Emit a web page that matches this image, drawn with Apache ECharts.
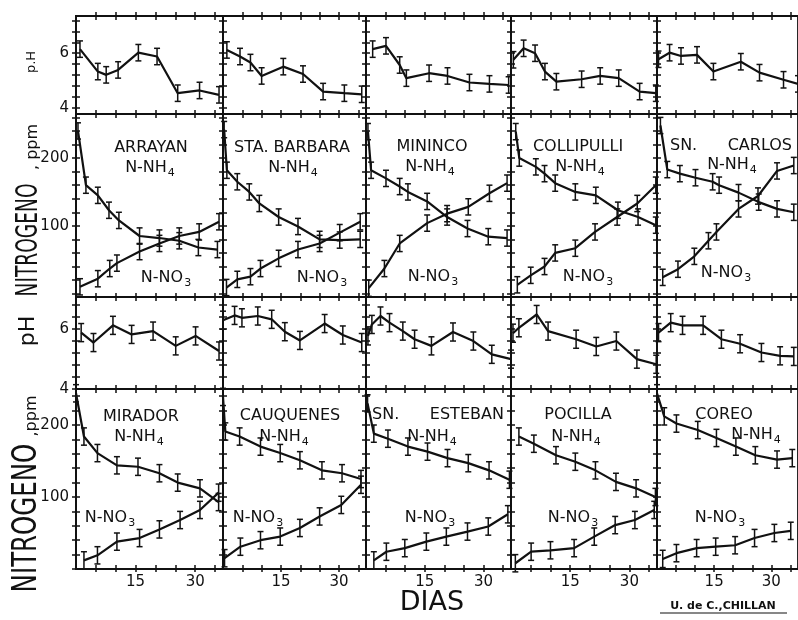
<!DOCTYPE html>
<html>
<head>
<meta charset="utf-8">
<script src="https://cdn.jsdelivr.net/npm/echarts@6/dist/echarts.min.js"></script>
<style>
  html, body { margin: 0; padding: 0; background: #fff; }
  #main { width: 798px; height: 620px; }
</style>
</head>
<body>
<div id="main"></div>
<script>
// sites, top block then bottom block
const SITES = ['ARRAYAN', 'STA. BARBARA', 'MININCO', 'COLLIPULLI', 'SN.      CARLOS',
               'MIRADOR', 'CAUQUENES', 'SN.      ESTEBAN', 'POCILLA', 'COREO'];

// [dia, valor]
const ARRAYAN_PH  = [[1, 6.15], [5.5, 5.33], [7.6, 5.21], [10.6, 5.39], [15.7, 6.02], [20.4, 5.88], [25.6, 4.54], [31.1, 4.64], [36, 4.48]];
const ARRAYAN_NH4 = [[0.5, 240], [2.5, 160], [5.5, 145], [8.3, 123], [10.8, 108], [16, 85], [21, 82], [26, 78], [30.8, 68], [35.6, 65]];
const ARRAYAN_NO3 = [[1, 10], [5.5, 22], [8.5, 37], [10.3, 45], [16, 62], [21, 74], [26, 85], [31, 91], [36, 106]];

const BARBARA_PH  = [[1, 6.12], [4.4, 5.88], [7.1, 5.66], [10, 5.17], [15.6, 5.51], [20.7, 5.24], [25.9, 4.6], [31.4, 4.54], [35.9, 4.5]];
const BARBARA_NH4 = [[0.3, 242], [1, 182], [3.7, 165], [6.8, 150], [9.4, 133], [14.4, 113], [19.4, 99], [25, 80], [30.2, 79], [35.5, 80]];
const BARBARA_NO3 = [[0.9, 9], [3.7, 21], [7.1, 25], [9.7, 37], [14.4, 52], [19.4, 65], [25, 74], [30.2, 90], [35.5, 106]];

const MININCO_PH  = [[1.7, 6.15], [5.1, 6.27], [8.6, 5.57], [10.3, 5.09], [16.1, 5.27], [20.8, 5.17], [26.4, 4.93], [31.5, 4.88], [36.4, 4.84]];
const MININCO_NH4 = [[0.5, 239], [1.3, 182], [5.1, 170], [8.6, 158], [10.7, 150], [15.6, 136], [20.7, 113], [25.9, 96], [31.2, 84], [36, 82]];
const MININCO_NO3 = [[0.7, 8], [4.7, 37], [8.6, 74], [15.6, 104], [20.7, 118], [26.1, 128], [31.5, 148], [36, 163]];

const COLLIPULLI_PH  = [[0.6, 5.76], [3.2, 6.18], [6.1, 6.0], [8.6, 5.33], [11.5, 4.96], [17.9, 5.05], [22.6, 5.17], [27.3, 5.09], [32.6, 4.6], [36.7, 4.54]];
const COLLIPULLI_NH4 = [[1.2, 239], [2.1, 200], [6.3, 187], [8.5, 177], [11.2, 163], [16.3, 150], [21.5, 145], [27.1, 123], [32.2, 113], [36.7, 101]];
const COLLIPULLI_NO3 = [[1.6, 13], [5, 27], [8.5, 40], [11.2, 60], [16.3, 67], [21.3, 91], [26.9, 113], [32, 133], [36.7, 160]];

const CARLOS_PH  = [[0.4, 5.78], [3.3, 6.02], [6.3, 5.9], [10.5, 5.94], [14.8, 5.33], [22, 5.69], [26.9, 5.29], [33.2, 5.03], [37, 4.88]];
const CARLOS_NH4 = [[0.9, 248], [2.7, 183], [6, 177], [10.1, 171], [14.6, 165], [16.3, 160], [21.4, 149], [26.7, 135], [31.5, 125], [35.9, 120]];
const CARLOS_NO3 = [[1.5, 24], [5.5, 36], [9.8, 55], [13.5, 78], [15.6, 91], [21.4, 125], [26.5, 144], [31.5, 181], [35.9, 189]];

const MIRADOR_PH  = [[1.3, 5.87], [4.4, 5.54], [9.3, 6.11], [14, 5.81], [19.4, 5.92], [25.1, 5.43], [30.1, 5.76], [36, 5.26]];
const MIRADOR_NH4 = [[0, 244], [2, 184], [5.4, 161], [10.3, 144], [15.6, 142], [21, 133], [25.6, 120], [31.2, 112], [35.9, 93]];
const MIRADOR_NO3 = [[2, 12], [5.4, 19], [10.3, 38], [16, 43], [21, 55], [26.2, 68], [31.2, 82], [35.9, 106]];

const CAUQUENES_PH  = [[0, 6.28], [3, 6.44], [4.9, 6.36], [9, 6.42], [12.6, 6.31], [16, 5.9], [19.9, 5.61], [26.3, 6.17], [31, 5.79], [35.9, 5.54]];
const CAUQUENES_NH4 = [[0, 239], [0.6, 191], [4.3, 184], [9.7, 170], [14.8, 161], [19.9, 151], [25.6, 137], [30.8, 133], [35.7, 125]];
const CAUQUENES_NO3 = [[0.4, 15], [4.5, 31], [9.7, 40], [14.8, 45], [19.9, 57], [25, 73], [30.6, 89], [35.7, 117]];

const ESTEBAN_PH  = [[0.5, 5.76], [1.5, 6.14], [3.7, 6.42], [6, 6.2], [9.4, 5.92], [12.4, 5.65], [16.7, 5.43], [22.2, 5.89], [27.4, 5.59], [32.1, 5.15], [37, 4.99]];
const ESTEBAN_NH4 = [[0.4, 230], [2, 188], [5.6, 181], [10.7, 170], [15.7, 163], [20.8, 154], [26.1, 147], [31.4, 137], [36.6, 124]];
const ESTEBAN_NO3 = [[2, 12], [5.2, 24], [9.9, 29], [15.4, 38], [20.5, 45], [25.9, 52], [31.2, 59], [36.2, 76]];

const POCILLA_PH  = [[0.5, 5.85], [2, 6.03], [6.5, 6.47], [9.4, 5.92], [16.5, 5.65], [21.6, 5.41], [26.7, 5.59], [31.9, 4.99], [36.8, 4.82]];
const POCILLA_NH4 = [[2, 184], [5.8, 174], [11.4, 158], [16.3, 149], [21.4, 137], [26.6, 121], [31.7, 112], [36.6, 100]];
const POCILLA_NO3 = [[1.1, 8], [5.1, 24], [10, 26], [16, 29], [21.1, 45], [26.4, 61], [31.4, 68], [36.3, 82]];

const COREO_PH  = [[0.4, 5.87], [3.6, 6.2], [6.7, 6.11], [12.1, 6.11], [16.9, 5.65], [21.8, 5.5], [27.4, 5.21], [32.3, 5.1], [35.9, 5.08]];
const COREO_NH4 = [[0, 244], [1.9, 212], [5.1, 202], [10.7, 193], [15.6, 182], [20.7, 170], [25.8, 158], [31.5, 152], [35.5, 154]];
const COREO_NO3 = [[1.5, 14], [5.1, 22], [10.4, 29], [15.4, 31], [20.5, 33], [25.6, 43], [30.8, 50], [35.1, 53]];

const PH  = [ARRAYAN_PH, BARBARA_PH, MININCO_PH, COLLIPULLI_PH, CARLOS_PH, MIRADOR_PH, CAUQUENES_PH, ESTEBAN_PH, POCILLA_PH, COREO_PH];
const NH4 = [ARRAYAN_NH4, BARBARA_NH4, MININCO_NH4, COLLIPULLI_NH4, CARLOS_NH4, MIRADOR_NH4, CAUQUENES_NH4, ESTEBAN_NH4, POCILLA_NH4, COREO_NH4];
const NO3 = [ARRAYAN_NO3, BARBARA_NO3, MININCO_NO3, COLLIPULLI_NO3, CARLOS_NO3, MIRADOR_NO3, CAUQUENES_NO3, ESTEBAN_NO3, POCILLA_NO3, COREO_NO3];

// half-length of the error bars
const PH_ERR = 0.3;
const N_ERR = 12;

// axis ticks / labels
const X_TICKS = [5, 10, 15, 20, 25, 30, 35];
const X_LABELS = [15, 30];
const PH_TICKS = [4, 4.4, 4.8, 5.2, 5.6, 6, 6.4, 6.8, 7.2];
const PH_LABELS = [4, 6];
const N_TICKS = [0, 20, 40, 60, 80, 100, 120, 140, 160, 180, 200, 220, 240, 260];
const N_LABELS = [100, 200];

// ---- layout (pixels) ----
const INK = '#111';
const FONT = 'DejaVu Sans';
const COL_LEFT = [76, 223, 366, 511, 657];
const COL_W = [147, 143, 145, 146, 146];
const ROW_TOP = [16, 114, 297, 389];
const ROW_H = [98, 183, 92, 180];
const X_MAX = 37;
const ROW_Y = [
  { min: 3.78, max: 7.36, ticks: PH_TICKS, labels: PH_LABELS, kind: 'ph' },
  { min: -5, max: 265, ticks: N_TICKS, labels: N_LABELS, kind: 'n' },
  { min: 4, max: 7.05, ticks: PH_TICKS, labels: PH_LABELS, kind: 'ph' },
  { min: 0, max: 250, ticks: N_TICKS, labels: N_LABELS, kind: 'n' }
];

const TITLE_POS = [[151, 148], [292, 148], [432, 147], [578, 147], [731, 146],
                   [141, 417], [290, 416], [438, 415], [578, 415], [724, 415]];
const NH4_POS = [[150, 168], [293, 168], [430, 167], [580, 167], [732, 165],
                 [139, 437], [284, 437], [432, 437], [576, 437], [756, 435]];
const NO3_POS = [[166, 278], [322, 278], [433, 277], [588, 277], [726, 273],
                 [110, 518], [258, 518], [430, 518], [573, 518], [720, 518]];

const line = { color: INK, width: 1.9 };
const tick = { color: INK, width: 1.5 };

function errorBars(err) {
  return function (params, api) {
    const x = api.value(0), y = api.value(1);
    const hi = api.coord([x, y + err]);
    const lo = api.coord([x, y - err]);
    const cap = 3;
    const st = { stroke: INK, lineWidth: 1.5 };
    return {
      type: 'group',
      children: [
        { type: 'line', shape: { x1: hi[0], y1: hi[1], x2: lo[0], y2: lo[1] }, style: st },
        { type: 'line', shape: { x1: hi[0] - cap, y1: hi[1], x2: hi[0] + cap, y2: hi[1] }, style: st },
        { type: 'line', shape: { x1: lo[0] - cap, y1: lo[1], x2: lo[0] + cap, y2: lo[1] }, style: st }
      ]
    };
  };
}

const grids = [], xAxes = [], yAxes = [], series = [];

for (let r = 0; r < 4; r++) {
  const yr = ROW_Y[r];
  const yTicks = yr.ticks.filter(v => v >= yr.min && v <= yr.max);
  for (let c = 0; c < 5; c++) {
    const g = grids.length;
    grids.push({
      left: COL_LEFT[c], top: ROW_TOP[r], width: COL_W[c], height: ROW_H[r],
      show: true, borderColor: INK, borderWidth: 1.8, backgroundColor: 'transparent'
    });

    // x: crossing ticks on the top edge
    const xi = xAxes.length;
    xAxes.push({
      type: 'value', gridIndex: g, position: 'top', min: 0, max: X_MAX,
      axisLine: { show: true, onZero: false, lineStyle: line },
      axisTick: { show: true, inside: false, length: 4, customValues: X_TICKS, lineStyle: tick },
      axisLabel: { show: false }, splitLine: { show: false }
    });
    xAxes.push({
      type: 'value', gridIndex: g, position: 'top', min: 0, max: X_MAX,
      axisLine: { show: false, onZero: false },
      axisTick: { show: true, inside: true, length: 4, customValues: X_TICKS, lineStyle: tick },
      axisLabel: { show: false }, splitLine: { show: false }
    });
    if (r === 3) {
      xAxes.push({
        type: 'value', gridIndex: g, position: 'bottom', min: 0, max: X_MAX,
        axisLine: { show: true, onZero: false, lineStyle: line },
        axisTick: { show: true, inside: true, length: 4, customValues: X_TICKS, lineStyle: tick },
        axisLabel: { show: true, customValues: X_LABELS, color: INK, fontFamily: FONT, fontSize: 15, margin: 6 },
        splitLine: { show: false }
      });
      xAxes.push({
        type: 'value', gridIndex: g, position: 'bottom', min: 0, max: X_MAX,
        axisLine: { show: false, onZero: false },
        axisTick: { show: true, inside: false, length: 3, customValues: X_TICKS, lineStyle: tick },
        axisLabel: { show: false }, splitLine: { show: false }
      });
    }

    // y: crossing ticks on the left edge
    const yi = yAxes.length;
    yAxes.push({
      type: 'value', gridIndex: g, position: 'left', min: yr.min, max: yr.max,
      axisLine: { show: true, onZero: false, lineStyle: line },
      axisTick: { show: true, inside: false, length: 4, customValues: yTicks, lineStyle: tick },
      axisLabel: {
        show: c === 0, customValues: yr.labels, color: INK, fontFamily: FONT, fontSize: 15, margin: 7
      },
      splitLine: { show: false }
    });
    yAxes.push({
      type: 'value', gridIndex: g, position: 'left', min: yr.min, max: yr.max,
      axisLine: { show: false, onZero: false },
      axisTick: { show: true, inside: true, length: 4, customValues: yTicks, lineStyle: tick },
      axisLabel: { show: false }, splitLine: { show: false }
    });

    const site = r < 2 ? c : 5 + c;
    const sets = yr.kind === 'ph' ? [[PH[site], PH_ERR]] : [[NH4[site], N_ERR], [NO3[site], N_ERR]];
    sets.forEach(([data, err]) => {
      series.push({
        type: 'line', xAxisIndex: xi, yAxisIndex: yi, data: data,
        symbol: 'none', smooth: false, lineStyle: { color: INK, width: 2.2 }, silent: true
      });
      series.push({
        type: 'custom', xAxisIndex: xi, yAxisIndex: yi, data: data,
        encode: { x: 0, y: 1 }, renderItem: errorBars(err), silent: true
      });
    });
  }
}

// ---- texts ----
const graphic = [];
function label(text, x, y, size, more) {
  graphic.push(Object.assign({
    type: 'text', x: x, y: y, silent: true,
    style: Object.assign({
      text: text, fill: INK, fontFamily: FONT, fontSize: size,
      align: 'center', verticalAlign: 'middle'
    }, (more && more.style) || {})
  }, more && more.transform ? more.transform : {}));
}

const subRich = { s: { fontSize: 11, fontFamily: FONT, fill: INK, padding: [10, 0, 0, 1] } };
SITES.forEach((name, i) => {
  label(name, TITLE_POS[i][0], TITLE_POS[i][1], 16);
  label('N-NH{s|4}', NH4_POS[i][0], NH4_POS[i][1], 16, { style: { rich: subRich } });
  label('N-NO{s|3}', NO3_POS[i][0], NO3_POS[i][1], 16, { style: { rich: subRich } });
});

// side titles (rotated, reading bottom to top)
const up = Math.PI / 2;
label('p.H', 32, 62, 13, { transform: { rotation: up } });
label('pH', 28, 331, 22, { transform: { rotation: up } });
label('NITROGENO', 29, 240, 31, { transform: { rotation: up, scaleX: 0.6 } });
label(', ppm', 33, 147, 16, { transform: { rotation: up } });
label('NITROGENO', 27, 518, 34, { transform: { rotation: up, scaleX: 0.72 } });
label(',ppm', 32, 416, 16, { transform: { rotation: up } });

label('DIAS', 432, 603, 27);
label('U. de C.,CHILLAN', 723, 606, 11, { style: { fontWeight: 'bold' } });
graphic.push({ type: 'line', silent: true, shape: { x1: 660, y1: 613, x2: 787, y2: 613 }, style: { stroke: INK, lineWidth: 1.2 } });

const chart = echarts.init(document.getElementById('main'), null, { renderer: 'canvas' });
chart.setOption({
  backgroundColor: '#fff',
  animation: false,
  grid: grids,
  xAxis: xAxes,
  yAxis: yAxes,
  series: series,
  graphic: graphic
});
</script>
</body>
</html>
